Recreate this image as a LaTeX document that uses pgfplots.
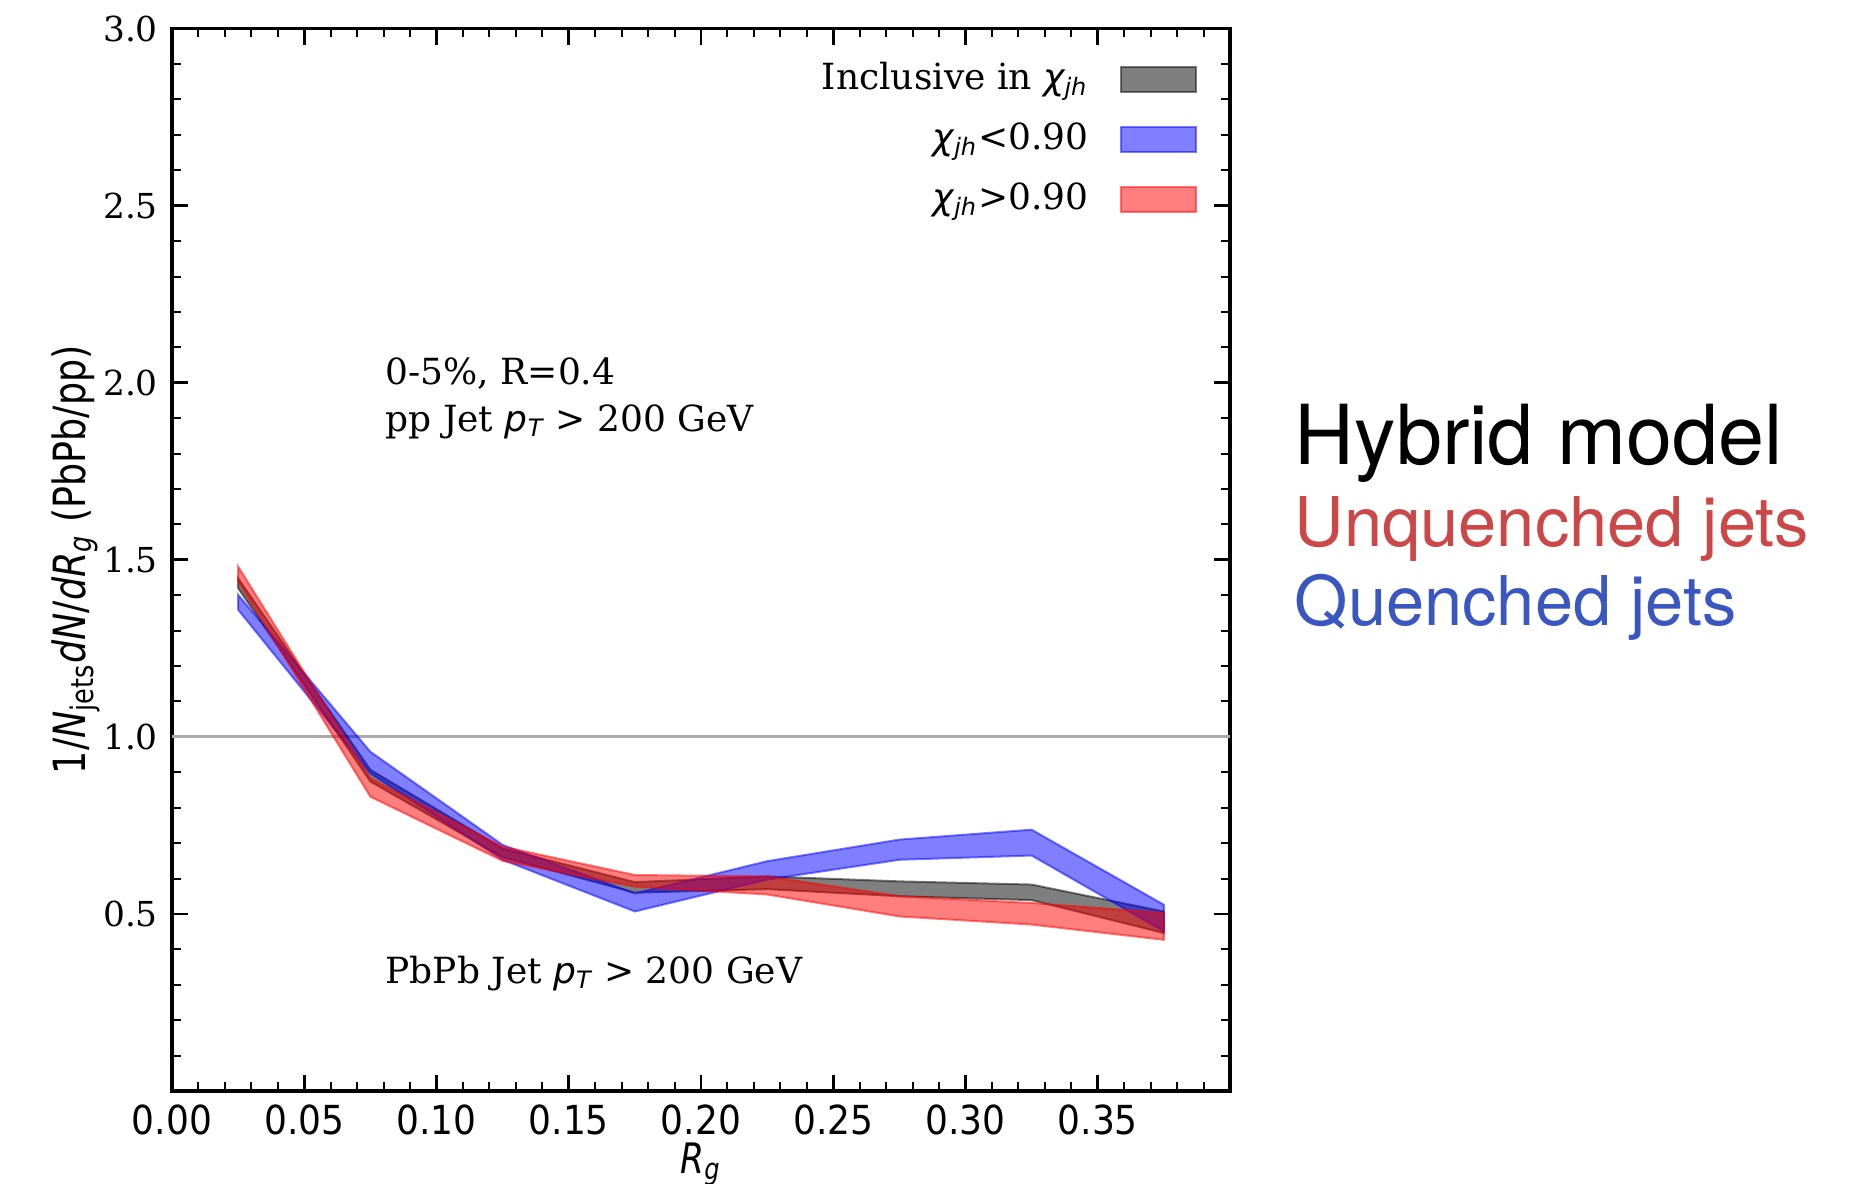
\documentclass[border=0pt]{standalone}
\usepackage{fontspec}
\setmainfont{DejaVu Serif}
\newfontfamily\condsans[FakeStretch=0.82]{DejaVu Sans}
\newfontfamily\tickfont[FakeStretch=0.9]{DejaVu Sans}
\newfontfamily\dvsans{DejaVu Sans}
\newfontfamily\helv{TeX Gyre Heros}
\usepackage{pgfplots}
\pgfplotsset{compat=1.18}
\definecolor{redtxt}{RGB}{204,72,72}
\definecolor{bluetxt}{RGB}{58,86,192}
\definecolor{oneline}{RGB}{170,170,170}
\newcommand{\pT}{{\dvsans\itshape p}\textsubscript{\dvsans\itshape T}}
\newcommand{\chijh}{{\dvsans\itshape χ}\textsubscript{\dvsans\itshape jh}}
\begin{document}
\begin{tikzpicture}
\useasboundingbox (-43pt,-23pt) rectangle (422pt,272.75pt);
\begin{axis}[
  at={(0,0)}, anchor=south west,
  scale only axis, width=264.5pt, height=265.6pt,
  xmin=0, xmax=0.4, ymin=0, ymax=3,
  xtick={0,0.05,0.1,0.15,0.2,0.25,0.3,0.35,0.4},
  xticklabels={0.00,0.05,0.10,0.15,0.20,0.25,0.30,0.35,},
  ytick={0,0.5,1,1.5,2,2.5,3},
  yticklabels={,0.5,1.0,1.5,2.0,2.5,3.0},
  minor x tick num=4, minor y tick num=4,
  tick align=inside, tick pos=both,
  major tick length=4pt, minor tick length=2.2pt,
  axis line style={line width=0.8pt},
  every tick/.style={black, line width=0.7pt},
  every minor tick/.style={black, line width=0.5pt},
  xticklabel style={font=\tickfont\fontsize{10}{12}\selectfont},
  yticklabel style={font=\fontsize{8.6}{10}\selectfont},
  xlabel={\condsans\itshape R\textsubscript{g}},
  every axis x label/.style={at={(axis description cs:0.5,-0.069)}, anchor=center, font=\fontsize{10.5}{12}\selectfont},
  ylabel={\condsans 1/\textit{N}\textsubscript{jets}\textit{dN}/\textit{dR}\textsubscript{\textit{g}} (PbPb/pp)},
  every axis y label/.style={at={(axis description cs:-0.091,0.5)}, anchor=center, rotate=90, font=\fontsize{11.1}{13}\selectfont},
  legend cell align=right, legend plot pos=right,
  legend style={at={(rel axis cs:0.97,0.970)}, anchor=north east, draw=none, fill=none,
    inner sep=0pt, row sep=6pt, column sep=8pt,
    nodes={inner sep=0pt, text height=7pt, text depth=2pt},
    font=\fontsize{9}{11}\selectfont},
  legend image code/.code={\draw[#1] (0pt,-3.1pt) rectangle (18.75pt,3.1pt);},
]
\addplot[oneline, line width=0.8pt, forget plot] coordinates {(0,1) (0.4,1)};
% Inclusive
\addplot[fill=black, fill opacity=0.5, draw=black, draw opacity=0.5, line width=0.5pt] coordinates {
 (0.025,1.448) (0.075,0.907) (0.125,0.685) (0.175,0.590) (0.225,0.606) (0.275,0.592) (0.325,0.583) (0.375,0.507)
 (0.375,0.446) (0.325,0.539) (0.275,0.550) (0.225,0.570) (0.175,0.560) (0.125,0.660) (0.075,0.874) (0.025,1.420)
} -- cycle;
\addlegendentry{Inclusive in \chijh}
% chi < 0.90
\addplot[fill=blue, fill opacity=0.5, draw=blue, draw opacity=0.5, line width=0.5pt] coordinates {
 (0.025,1.401) (0.075,0.958) (0.125,0.695) (0.175,0.558) (0.225,0.649) (0.275,0.710) (0.325,0.738) (0.375,0.526)
 (0.375,0.451) (0.325,0.665) (0.275,0.653) (0.225,0.597) (0.175,0.507) (0.125,0.653) (0.075,0.897) (0.025,1.359)
} -- cycle;
\addlegendentry{\chijh<0.90}
% chi > 0.90
\addplot[fill=red, fill opacity=0.5, draw=red, draw opacity=0.5, line width=0.5pt] coordinates {
 (0.025,1.481) (0.075,0.883) (0.125,0.690) (0.175,0.610) (0.225,0.606) (0.275,0.550) (0.325,0.531) (0.375,0.503)
 (0.375,0.427) (0.325,0.470) (0.275,0.493) (0.225,0.555) (0.175,0.577) (0.125,0.650) (0.075,0.831) (0.025,1.439)
} -- cycle;
\addlegendentry{\chijh>0.90}
\node[anchor=base west, font=\fontsize{9}{11}\selectfont, inner sep=0pt] at (axis cs:0.0805,1.995) {0-5\%, R=0.4};
\node[anchor=base west, font=\fontsize{9}{11}\selectfont, inner sep=0pt] at (axis cs:0.0805,1.863) {pp Jet \pT{} > 200 GeV};
\node[anchor=base west, font=\fontsize{9}{11}\selectfont, inner sep=0pt] at (axis cs:0.0805,0.305) {PbPb Jet \pT{} > 200 GeV};
\end{axis}
\node[anchor=base west, inner sep=0pt, font=\helv\fontsize{20.7}{24}\selectfont] at (280.5pt,156.7pt) {Hybrid model};
\node[anchor=base west, inner sep=0pt, text=redtxt, font=\helv\fontsize{17.15}{21}\selectfont] at (280.5pt,136.2pt) {Unquenched jets};
\node[anchor=base west, inner sep=0pt, text=bluetxt, font=\helv\fontsize{17.15}{21}\selectfont] at (280.5pt,116.5pt) {Quenched jets};
\end{tikzpicture}
\end{document}
